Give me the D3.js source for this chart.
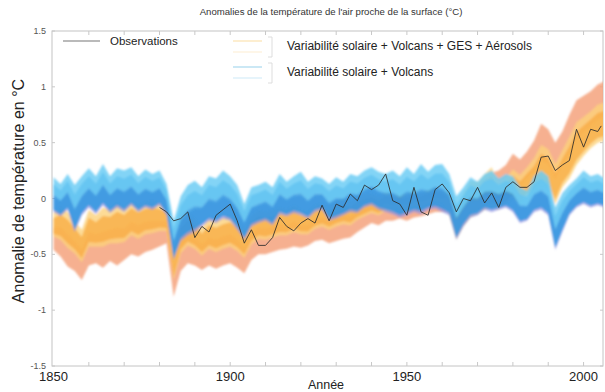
<!DOCTYPE html>
<html>
<head>
<meta charset="utf-8">
<script src="https://cdn.jsdelivr.net/npm/d3@7"></script>
<style>
  html, body { margin: 0; padding: 0; background: #fff; }
  svg { display: block; font-family: "Liberation Sans", Arial, sans-serif; }
</style>
</head>
<body>
<svg id="chart" width="605" height="392"></svg>
<script>
// Model years, two-year steps
const years = d3.range(1850, 2007, 2);

// Natural forcings only (solar + volcanic): upper / lower envelope
const natHi = [0.19,0.13,0.22,0.12,0.2,0.27,0.2,0.31,0.2,0.27,0.25,0.28,0.2,0.26,0.22,0.25,0.13,-0.2,0.02,0.12,
  0.16,0.1,0.2,0.18,0.25,0.2,0.12,-0.05,0.1,0.12,0.15,0.1,0.22,0.15,0.2,0.24,0.15,0.2,0.18,0.13,
  0.19,0.15,0.22,0.2,0.25,0.28,0.24,0.22,0.25,0.2,0.28,0.22,0.31,0.24,0.3,0.31,0.22,0.02,0.1,0.19,
  0.15,0.22,0.25,0.18,0.22,0.2,0.1,0.07,0.2,0.25,0.2,-0.08,0.05,0.12,0.18,0.25,0.2,0.22,0.18];
const natLo = [-0.12,-0.16,-0.1,-0.3,-0.15,-0.08,-0.14,-0.06,-0.13,-0.08,-0.12,-0.06,-0.12,-0.08,-0.1,-0.06,-0.15,-0.55,-0.38,-0.33,
  -0.3,-0.25,-0.2,-0.22,-0.18,-0.2,-0.28,-0.37,-0.25,-0.22,-0.2,-0.24,-0.14,-0.16,-0.13,-0.15,-0.18,-0.12,-0.1,-0.2,
  -0.18,-0.15,-0.12,-0.13,-0.08,-0.06,-0.1,-0.12,-0.14,-0.17,-0.15,-0.12,-0.14,-0.1,-0.09,-0.12,-0.15,-0.37,-0.25,-0.17,
  -0.15,-0.1,-0.12,-0.1,-0.08,-0.12,-0.22,-0.2,-0.12,-0.1,-0.15,-0.46,-0.3,-0.15,-0.08,-0.05,-0.08,-0.06,-0.08];

// All forcings (solar + volcanic + GHG + aerosols), first model group: range
const allAHi = [-0.26,-0.26,-0.32,-0.38,-0.46,-0.3,-0.32,-0.3,-0.28,-0.26,-0.27,-0.21,-0.24,-0.21,-0.2,-0.2,-0.21,-0.62,-0.38,-0.31,
  -0.35,-0.41,-0.35,-0.37,-0.34,-0.32,-0.37,-0.44,-0.31,-0.26,-0.27,-0.25,-0.23,-0.24,-0.21,-0.24,-0.24,-0.19,-0.17,-0.2,
  -0.16,-0.14,-0.16,-0.11,-0.08,-0.06,-0.08,-0.04,-0.06,-0.04,-0.06,-0.03,-0.03,-0.01,0.01,0.0,0.02,-0.14,0.01,0.11,
  0.11,0.17,0.23,0.25,0.3,0.4,0.35,0.42,0.52,0.67,0.62,0.5,0.6,0.75,0.88,0.92,0.96,1.02,1.05];
const allALo = [-0.46,-0.52,-0.61,-0.65,-0.73,-0.6,-0.58,-0.62,-0.56,-0.6,-0.55,-0.5,-0.52,-0.48,-0.46,-0.43,-0.4,-0.88,-0.65,-0.58,
  -0.6,-0.64,-0.6,-0.63,-0.6,-0.58,-0.62,-0.67,-0.55,-0.5,-0.5,-0.48,-0.46,-0.45,-0.43,-0.44,-0.42,-0.38,-0.37,-0.4,
  -0.38,-0.36,-0.35,-0.3,-0.26,-0.22,-0.24,-0.2,-0.2,-0.18,-0.2,-0.17,-0.16,-0.14,-0.12,-0.12,-0.12,-0.33,-0.2,-0.12,
  -0.1,-0.05,-0.03,0.04,0.09,0.16,0.11,0.18,0.24,0.34,0.31,0.17,0.3,0.41,0.53,0.6,0.65,0.71,0.73];

// All forcings, second model group: range
const allBHi = [-0.13,-0.08,-0.12,-0.2,-0.28,-0.1,-0.15,-0.08,-0.1,-0.04,-0.08,-0.02,-0.06,-0.03,-0.02,-0.04,-0.08,-0.45,-0.2,-0.13,
  -0.18,-0.26,-0.18,-0.2,-0.17,-0.15,-0.2,-0.28,-0.15,-0.1,-0.12,-0.1,-0.08,-0.1,-0.06,-0.1,-0.12,-0.06,-0.04,-0.06,
  -0.02,0.0,-0.03,0.02,0.04,0.05,0.02,0.06,0.03,0.05,0.04,0.07,0.05,0.08,0.1,0.07,0.05,-0.1,0.05,0.16,
  0.15,0.22,0.28,0.13,0.18,0.26,0.21,0.28,0.36,0.48,0.44,0.31,0.43,0.55,0.68,0.73,0.78,0.84,0.86];
const allBLo = [-0.34,-0.37,-0.44,-0.49,-0.57,-0.43,-0.43,-0.43,-0.4,-0.4,-0.39,-0.33,-0.36,-0.32,-0.31,-0.29,-0.29,-0.73,-0.49,-0.42,
  -0.45,-0.51,-0.45,-0.48,-0.45,-0.43,-0.47,-0.53,-0.41,-0.36,-0.37,-0.35,-0.33,-0.33,-0.3,-0.32,-0.32,-0.27,-0.25,-0.28,
  -0.25,-0.23,-0.24,-0.19,-0.16,-0.13,-0.15,-0.11,-0.12,-0.1,-0.12,-0.09,-0.09,-0.06,-0.04,-0.05,-0.15,-0.37,-0.25,-0.17,
  -0.14,-0.1,-0.08,-0.1,-0.05,0.0,-0.05,0.02,0.05,0.12,0.1,-0.05,0.1,0.18,0.3,0.38,0.45,0.5,0.52];

// Observed anomalies
const obsYears = [1880,1882,1884,1886,1888,1890,1892,1894,1896,1898,1900,1902,1904,1906,1908,1910,1912,1914,1916,1918,
  1920,1922,1924,1926,1928,1930,1932,1934,1936,1938,1940,1942,1944,1946,1948,1950,1952,1954,1956,1958,
  1960,1962,1964,1966,1968,1970,1972,1974,1976,1978,1980,1982,1984,1986,1988,1990,1992,1994,1996,1998,
  2000,2002,2004,2005];
const obsValues = [-0.08,-0.12,-0.2,-0.18,-0.12,-0.35,-0.25,-0.3,-0.15,-0.1,-0.05,-0.2,-0.4,-0.28,-0.42,-0.42,-0.35,-0.17,-0.25,-0.29,
  -0.22,-0.18,-0.22,-0.06,-0.2,-0.05,-0.08,0.04,-0.02,0.12,0.08,0.12,0.22,-0.02,-0.05,-0.15,0.1,-0.12,-0.15,0.08,
  0.13,0.05,-0.12,0.0,-0.02,0.1,-0.04,0.05,-0.08,0.1,0.15,0.1,0.1,0.15,0.37,0.38,0.25,0.3,0.34,0.62,
  0.46,0.62,0.6,0.65];

const yTicks = [1.5, 1, 0.5, 0, -0.5, -1, -1.5];
const yTickLabels = ["1.5", "1", "0.5", "0", "-0.5", "-1", "-1.5"];
const xTicks = [1850, 1900, 1950, 2000];

const labels = {
  title: "Anomalies de la température de l'air proche de la surface (°C)",
  yAxis: "Anomalie de température en °C",
  xAxis: "Année",
  obs: "Observations",
  all: "Variabilité solaire + Volcans + GES + Aérosols",
  nat: "Variabilité solaire + Volcans"
};

const svg = d3.select("#chart");
const L = 52, R = 603, T = 31, B = 366;

const x = d3.scaleLinear().domain([1850, 2005.5]).range([L + 1.5, R]);
const y = d3.scaleLinear().domain([-1.5, 1.5]).range([B, T]);

const defs = svg.append("defs");
defs.append("clipPath").attr("id", "plotClip")
  .append("rect").attr("x", L).attr("y", T).attr("width", R - L).attr("height", B - T);
defs.append("filter").attr("id", "soft").attr("x", "-5%").attr("y", "-5%").attr("width", "110%").attr("height", "110%")
  .append("feGaussianBlur").attr("stdDeviation", 1.2);

// Title
svg.append("text").attr("x", 331).attr("y", 15).attr("text-anchor", "middle")
  .attr("font-size", 9.6).attr("fill", "#333").text(labels.title);

// Frame
svg.append("rect").attr("x", L).attr("y", T).attr("width", R - L).attr("height", B - T)
  .attr("fill", "none").attr("stroke", "#c4c4c4").attr("stroke-width", 1);

// Minor ticks along the frame
const decade = d3.range(1860, 2006, 10);
svg.append("g").selectAll("line").data(decade).join("line")
  .attr("x1", d => x(d)).attr("x2", d => x(d)).attr("y1", B).attr("y2", B - 4)
  .attr("stroke", "#c8c8c8");
svg.append("g").selectAll("line").data(decade).join("line")
  .attr("x1", d => x(d)).attr("x2", d => x(d)).attr("y1", T).attr("y2", T + 4)
  .attr("stroke", "#c8c8c8");
svg.append("g").selectAll("line").data(yTicks).join("line")
  .attr("x1", L).attr("x2", L + 3).attr("y1", d => y(d)).attr("y2", d => y(d))
  .attr("stroke", "#c8c8c8");
svg.append("g").selectAll("line").data(yTicks).join("line")
  .attr("x1", R).attr("x2", R - 3).attr("y1", d => y(d)).attr("y2", d => y(d))
  .attr("stroke", "#c8c8c8");

// Y tick labels
svg.append("g").selectAll("text").data(yTicks).join("text")
  .attr("x", 46).attr("y", d => y(d) + 3).attr("text-anchor", "end")
  .attr("font-size", 9).attr("fill", "#555")
  .text((d, i) => yTickLabels[i]);

// X tick labels
svg.append("g").selectAll("text").data(xTicks).join("text")
  .attr("x", d => x(d)).attr("y", 381).attr("text-anchor", "middle")
  .attr("font-size", 13).attr("fill", "#222")
  .text(d => d);

// Axis titles
svg.append("text").attr("x", 326).attr("y", 389).attr("text-anchor", "middle")
  .attr("font-size", 12.5).attr("fill", "#222").text(labels.xAxis);
svg.append("text").attr("transform", "translate(24,191) rotate(-90)")
  .attr("text-anchor", "middle").attr("font-size", 16).attr("fill", "#222").text(labels.yAxis);

// Filled range between two series, optionally restricted to a fraction of it
function band(lo, hi, f0 = 0, f1 = 1) {
  return d3.area()
    .x((d, i) => x(years[i]))
    .y0((d, i) => y(lo[i] + f0 * (hi[i] - lo[i])))
    .y1((d, i) => y(lo[i] + f1 * (hi[i] - lo[i])))(years);
}

const plot = svg.append("g").attr("clip-path", "url(#plotClip)");
const bands = plot.append("g").attr("filter", "url(#soft)");

// All-forcing ensemble
bands.append("path").attr("d", band(allALo, allAHi)).attr("fill", "#f4a27c").attr("fill-opacity", 0.85);
bands.append("path").attr("d", band(allBLo, allBHi)).attr("fill", "#fcd27c").attr("fill-opacity", 0.8);
bands.append("path").attr("d", band(allBLo, allBHi, 0.12, 0.78)).attr("fill", "#f8a83c").attr("fill-opacity", 0.7);

// Natural-forcing ensemble
bands.append("path").attr("d", band(natLo, natHi, 0, 0.45)).attr("fill", "#8a8ee0").attr("fill-opacity", 0.7);
bands.append("path").attr("d", band(natLo, natHi, 0.06, 0.8)).attr("fill", "#2f98e2").attr("fill-opacity", 0.85);
bands.append("path").attr("d", band(natLo, natHi, 0.5, 1)).attr("fill", "#6ccdf4").attr("fill-opacity", 0.85);

// Observations
plot.append("path")
  .attr("d", d3.line().x((d, i) => x(obsYears[i])).y(d => y(d))(obsValues))
  .attr("fill", "none").attr("stroke", "#2a2a2a").attr("stroke-width", 0.85);

// Legend
const lg = svg.append("g");
lg.append("line").attr("x1", 63).attr("x2", 100).attr("y1", 41).attr("y2", 41)
  .attr("stroke", "#777").attr("stroke-width", 1.2);
lg.append("text").attr("x", 110).attr("y", 45).attr("font-size", 11.5).attr("fill", "#222").text(labels.obs);

function legendEntry(yc, c1, c2, text) {
  lg.append("line").attr("x1", 233).attr("x2", 262).attr("y1", yc - 5).attr("y2", yc - 5)
    .attr("stroke", c1).attr("stroke-width", 1.2);
  lg.append("line").attr("x1", 233).attr("x2", 262).attr("y1", yc + 6).attr("y2", yc + 6)
    .attr("stroke", c2).attr("stroke-width", 1.2);
  lg.append("path").attr("d", `M268,${yc - 9}H272V${yc + 11}H268`)
    .attr("fill", "none").attr("stroke", "#ddd").attr("stroke-width", 1);
  lg.append("text").attr("x", 287).attr("y", yc + 4).attr("font-size", 12).attr("fill", "#222").text(text);
}
legendEntry(46, "#fbe3b0", "#fdf0d8", labels.all);
legendEntry(72, "#a8d8ee", "#d6edf8", labels.nat);
</script>
</body>
</html>
